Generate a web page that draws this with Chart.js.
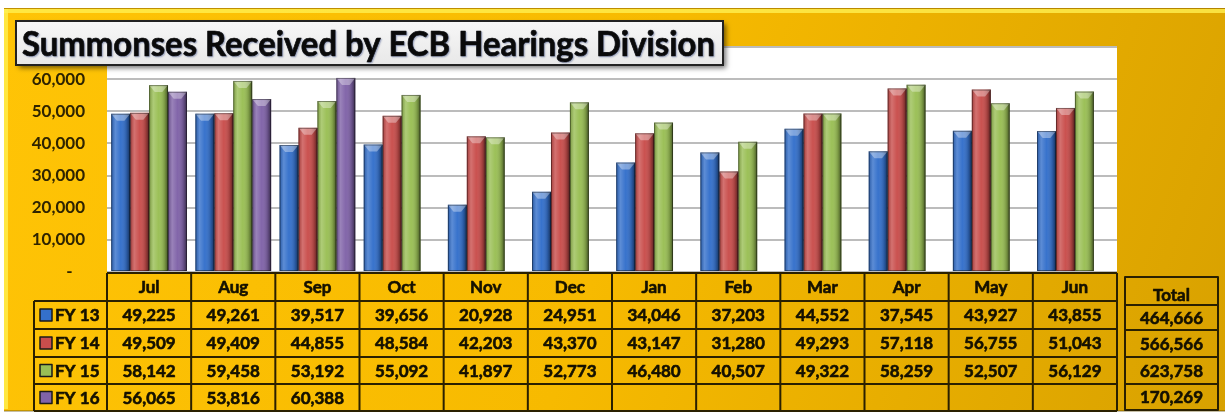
<!DOCTYPE html>
<html><head><meta charset="utf-8">
<script src="https://cdn.jsdelivr.net/npm/chart.js@4/dist/chart.umd.min.js"></script>
<style>html,body{margin:0;padding:0;background:#fff;overflow:hidden}canvas{display:block}</style>
</head><body>
<canvas id="c" width="1225" height="414"></canvas>
<script>
const titleText = 'Summonses Received by ECB Hearings Division';
const categories = ['Jul','Aug','Sep','Oct','Nov','Dec','Jan','Feb','Mar','Apr','May','Jun'];
const seriesNames = ['FY 13','FY 14','FY 15','FY 16'];
const fy13 = [49225,49261,39517,39656,20928,24951,34046,37203,44552,37545,43927,43855];
const fy14 = [49509,49409,44855,48584,42203,43370,43147,31280,49293,57118,56755,51043];
const fy15 = [58142,59458,53192,55092,41897,52773,46480,40507,49322,58259,52507,56129];
const fy16 = [56065,53816,60388,null,null,null,null,null,null,null,null,null];
const totals = [464666,566566,623758,170269];
const totalLabel = 'Total';
const yMax = 70000, yStep = 10000;

const colors = ['#3470cb','#c94e4c','#9abf55','#8063a8'];
const FONT = 'Lato, "Liberation Sans", sans-serif';
const W = 1225, H = 414;
const fmt = v => v.toLocaleString('en-US');

function boldText(ctx, t, x, y, sw) {
  ctx.lineWidth = sw; ctx.strokeStyle = ctx.fillStyle; ctx.lineJoin = 'round';
  ctx.strokeText(t, x, y); ctx.fillText(t, x, y);
}

const panelPlugin = {
  id: 'panel',
  beforeDraw(chart) {
    const ctx = chart.ctx, a = chart.chartArea;
    ctx.save();
    ctx.fillStyle = '#fff'; ctx.fillRect(0, 0, W, H);
    const g = ctx.createLinearGradient(4, 8, 1225, 410);
    g.addColorStop(0, '#ffc406'); g.addColorStop(0.5, '#f7ba00'); g.addColorStop(1, '#d8a100');
    ctx.fillStyle = g; ctx.fillRect(4, 8, W - 4, 403);
    ctx.fillStyle = 'rgba(255,240,80,0.8)';
    ctx.fillRect(4, 9, W - 4, 4);
    ctx.fillRect(4, 9, 4, 400);
    ctx.fillStyle = 'rgba(150,110,0,0.6)'; ctx.fillRect(4, 8, W - 4, 1);
    ctx.fillStyle = 'rgba(90,70,0,0.35)'; ctx.fillRect(4, 410, W - 4, 2);
    ctx.fillStyle = '#ffffff';
    ctx.fillRect(a.left, a.top, a.right - a.left, a.bottom - a.top);
    ctx.restore();
  }
};

const barStylePlugin = {
  id: 'barStyle',
  afterDatasetsDraw(chart) {
    const ctx = chart.ctx;
    ctx.save();
    chart.data.datasets.forEach((ds, di) => {
      const meta = chart.getDatasetMeta(di);
      meta.data.forEach((el, i) => {
        if (ds.data[i] == null) return;
        const w = el.width, l = el.x - w / 2, r = el.x + w / 2, top = el.y, bot = el.base;
        const g = ctx.createLinearGradient(l, 0, r, 0);
        g.addColorStop(0, 'rgba(0,0,0,0.18)');
        g.addColorStop(0.22, 'rgba(255,255,255,0.20)');
        g.addColorStop(0.5, 'rgba(255,255,255,0.02)');
        g.addColorStop(0.82, 'rgba(0,0,0,0.2)');
        g.addColorStop(1, 'rgba(0,0,0,0.55)');
        ctx.fillStyle = g; ctx.fillRect(l, top, w, bot - top);
        ctx.fillStyle = 'rgba(255,255,255,0.35)';
        ctx.beginPath();
        ctx.moveTo(l, top); ctx.lineTo(r, top);
        ctx.lineTo(r - w * 0.3, top + 7); ctx.lineTo(l + w * 0.3, top + 7);
        ctx.closePath(); ctx.fill();
        ctx.strokeStyle = 'rgba(0,0,0,0.4)'; ctx.lineWidth = 1;
        ctx.strokeRect(l + 0.5, top + 0.5, w - 1, bot - top - 1);
      });
    });
    ctx.restore();
  }
};

const tablePlugin = {
  id: 'dataTable',
  afterDraw(chart) {
    const ctx = chart.ctx, xs = chart.scales.x, a = chart.chartArea;
    const half = (xs.getPixelForValue(1) - xs.getPixelForValue(0)) / 2;
    const rowsY = [273, 301, 329, 357, 384, 411];
    const legL = 34;
    ctx.save();
    ctx.strokeStyle = '#2a2000'; ctx.lineWidth = 2;
    ctx.beginPath();
    ctx.moveTo(a.left, rowsY[0]); ctx.lineTo(a.right, rowsY[0]);
    for (let k = 1; k < rowsY.length; k++) { ctx.moveTo(legL, rowsY[k]); ctx.lineTo(a.right, rowsY[k]); }
    ctx.moveTo(legL, rowsY[1]); ctx.lineTo(legL, rowsY[5]);
    ctx.moveTo(a.left, rowsY[0]); ctx.lineTo(a.left, rowsY[5]);
    categories.forEach((c, i) => {
      const xr = xs.getPixelForValue(i) + half;
      ctx.moveTo(xr, rowsY[0]); ctx.lineTo(xr, rowsY[5]);
    });
    ctx.stroke();
    ctx.fillStyle = '#141000';
    ctx.font = 'bold 17px ' + FONT;
    ctx.textAlign = 'center'; ctx.textBaseline = 'middle';
    const series = [fy13, fy14, fy15, fy16];
    categories.forEach((c, i) => {
      const cx = xs.getPixelForValue(i);
      boldText(ctx, c, cx, (rowsY[0] + rowsY[1]) / 2 + 1, 0.6);
      series.forEach((s, si) => {
        if (s[i] != null) boldText(ctx, fmt(s[i]), cx, (rowsY[si + 1] + rowsY[si + 2]) / 2 + 1, 0.6);
      });
    });
    seriesNames.forEach((n, si) => {
      const cy = (rowsY[si + 1] + rowsY[si + 2]) / 2;
      ctx.fillStyle = colors[si];
      ctx.fillRect(40, cy - 6, 12, 12);
      ctx.strokeStyle = '#1a1a1a'; ctx.lineWidth = 1.5;
      ctx.strokeRect(40, cy - 6, 12, 12);
      ctx.fillStyle = '#141000'; ctx.textAlign = 'left';
      boldText(ctx, n, 55, cy + 1, 0.6);
    });
    const tL = 1125, tR = 1218, tY = [277, 305, 330, 357, 384, 410];
    ctx.strokeStyle = '#2a2000'; ctx.lineWidth = 2;
    ctx.strokeRect(tL, tY[0], tR - tL, tY[5] - tY[0]);
    ctx.beginPath();
    for (let k = 1; k < 5; k++) { ctx.moveTo(tL, tY[k]); ctx.lineTo(tR, tY[k]); }
    ctx.stroke();
    ctx.textAlign = 'center'; ctx.fillStyle = '#141000';
    const tc = (tL + tR) / 2;
    boldText(ctx, totalLabel, tc, (tY[0] + tY[1]) / 2 + 5, 0.6);
    totals.forEach((t, k) => boldText(ctx, fmt(t), tc, (tY[k + 1] + tY[k + 2]) / 2 + 1, 0.6));
    ctx.restore();
  }
};

const titlePlugin = {
  id: 'titleBox',
  afterDraw(chart) {
    const ctx = chart.ctx;
    const bx = 16, by = 21, bw = 707, bh = 44;
    ctx.save();
    ctx.shadowColor = 'rgba(0,0,0,0.55)'; ctx.shadowBlur = 5; ctx.shadowOffsetX = 3; ctx.shadowOffsetY = 3;
    const g = ctx.createLinearGradient(0, by, 0, by + bh);
    g.addColorStop(0, '#f7f7f7'); g.addColorStop(1, '#e8e8e8');
    ctx.fillStyle = g; ctx.fillRect(bx, by, bw, bh);
    ctx.shadowColor = 'transparent';
    ctx.strokeStyle = '#222'; ctx.lineWidth = 2;
    ctx.strokeRect(bx, by, bw, bh);
    ctx.font = 'bold 34px ' + FONT;
    const m = ctx.measureText(titleText).width;
    const sx = 693 / m;
    ctx.translate(22, 0); ctx.scale(sx, 1);
    ctx.fillStyle = '#0a0a0a'; ctx.textAlign = 'left'; ctx.textBaseline = 'alphabetic';
    ctx.shadowColor = 'rgba(40,60,120,0.35)'; ctx.shadowBlur = 1.5; ctx.shadowOffsetX = 1; ctx.shadowOffsetY = 1;
    boldText(ctx, titleText, 0, 56, 0.7);
    ctx.restore();
  }
};

new Chart(document.getElementById('c'), {
  type: 'bar',
  data: {
    labels: categories,
    datasets: [fy13, fy14, fy15, fy16].map((d, i) => ({
      label: seriesNames[i], data: d, backgroundColor: colors[i],
      categoryPercentage: 0.9, barPercentage: 1.0, borderWidth: 0
    }))
  },
  options: {
    responsive: false, devicePixelRatio: 1, animation: false,
    layout: { padding: { left: 4, top: 47, right: 108, bottom: 142 } },
    plugins: { legend: { display: false }, title: { display: false }, tooltip: { enabled: false } },
    scales: {
      x: { display: false, grid: { display: false } },
      y: {
        min: 0, max: yMax,
        afterFit(s) { s.width = 103; },
        border: { display: false },
        grid: { color: '#bcbcbc', lineWidth: 2, drawTicks: false },
        ticks: {
          stepSize: yStep, padding: 22, color: '#2e2300',
          font: { family: FONT, size: 17, weight: 'bold' },
          callback: v => v === 0 ? '-   ' : (v === yMax ? '' : fmt(v))
        }
      }
    }
  },
  plugins: [panelPlugin, barStylePlugin, tablePlugin, titlePlugin]
});
</script>
</body></html>
